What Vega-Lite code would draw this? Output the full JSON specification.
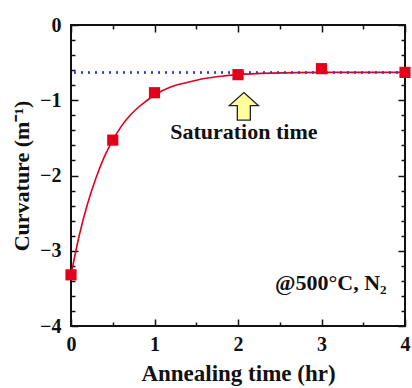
{
  "$schema": "https://vega.github.io/schema/vega-lite/v6.json",
  "autosize": {"type": "none"},
  "width": 334,
  "height": 301,
  "padding": {"left": 71, "top": 25, "right": 7, "bottom": 62},
  "background": "white",
  "config": {
    "view": {"stroke": "#111", "strokeWidth": 2},
    "axis": {"grid": false, "domain": false, "tickColor": "#111", "tickWidth": 1.5, "labelFont": "Liberation Serif", "labelFontWeight": "bold", "labelFontSize": 20, "labelColor": "#111", "titleFont": "Liberation Serif", "titleFontWeight": "bold", "titleFontSize": 22, "titleColor": "#111"}
  },
  "datasets": {
    "points": [
      {"t": 0, "c": -3.32},
      {"t": 0.5, "c": -1.53},
      {"t": 1, "c": -0.9},
      {"t": 2, "c": -0.66},
      {"t": 3, "c": -0.58},
      {"t": 4, "c": -0.63}
    ],
    "fit": [
      {"t": 0, "c": -3.32},
      {"t": 0.1, "c": -2.79},
      {"t": 0.2, "c": -2.37},
      {"t": 0.3, "c": -2.03},
      {"t": 0.4, "c": -1.75},
      {"t": 0.5, "c": -1.53},
      {"t": 0.6, "c": -1.35},
      {"t": 0.7, "c": -1.21},
      {"t": 0.8, "c": -1.1},
      {"t": 0.9, "c": -1.01},
      {"t": 1.0, "c": -0.93},
      {"t": 1.2, "c": -0.82},
      {"t": 1.4, "c": -0.76},
      {"t": 1.6, "c": -0.71},
      {"t": 1.8, "c": -0.68},
      {"t": 2.0, "c": -0.66},
      {"t": 2.4, "c": -0.64},
      {"t": 3.0, "c": -0.63},
      {"t": 4.0, "c": -0.63}
    ],
    "note1": [{"t": 2.07, "c": -1.42, "label": "Saturation time"}],
    "note2": [{"t": 3.78, "c": -3.43, "label": "@500°C, N₂"}],
    "arrow": [{"t": 2.07, "c": -1.08}]
  },
  "resolve": {"axis": {"x": "independent", "y": "independent"}},
  "layer": [
    {
      "data": {"name": "fit"},
      "mark": {"type": "line", "color": "#e3001b", "strokeWidth": 1.6, "interpolate": "monotone"},
      "encoding": {
        "x": {"field": "t", "type": "quantitative", "scale": {"domain": [0, 4], "nice": false, "zero": false},
          "axis": {"orient": "bottom", "values": [0, 1, 2, 3, 4], "ticks": false, "labelPadding": 8, "title": "Annealing time (hr)", "titleFontSize": 23, "titlePadding": 8, "labelFlush": false}},
        "y": {"field": "c", "type": "quantitative", "scale": {"domain": [-4, 0], "nice": false, "zero": false},
          "axis": {"orient": "left", "values": [-4, -3, -2, -1, 0], "ticks": false, "labelPadding": 10, "title": "Curvature (m⁻¹)", "titlePadding": 6, "labelFlush": false}}
      }
    },
    {
      "data": {"name": "points"},
      "mark": {"type": "rule", "color": "#3344aa", "strokeWidth": 1.5, "strokeDash": [2, 5]},
      "encoding": {"y": {"datum": -0.63, "type": "quantitative", "axis": null}}
    },
    {
      "data": {"name": "points"},
      "mark": {"type": "point", "shape": "square", "filled": true, "color": "#e3001b", "size": 125, "opacity": 1},
      "encoding": {
        "x": {"field": "t", "type": "quantitative", "axis": {"orient": "bottom", "values": [0, 1, 2, 3, 4], "tickSize": -7, "labels": false, "title": null}},
        "y": {"field": "c", "type": "quantitative", "axis": {"orient": "left", "values": [-4, -3, -2, -1, 0], "tickSize": -7, "labels": false, "title": null}}
      }
    },
    {
      "data": {"name": "points"},
      "mark": {"type": "point", "opacity": 0},
      "encoding": {
        "x": {"field": "t", "type": "quantitative", "axis": {"orient": "bottom", "values": [0.5, 1.5, 2.5, 3.5], "tickSize": -4, "labels": false, "title": null}},
        "y": {"field": "c", "type": "quantitative", "axis": {"orient": "left", "values": [-3.8, -3.6, -3.4, -3.2, -2.8, -2.6, -2.4, -2.2, -1.8, -1.6, -1.4, -1.2, -0.8, -0.6, -0.4, -0.2], "tickSize": -4, "labels": false, "title": null}}
      }
    },
    {
      "data": {"name": "points"},
      "mark": {"type": "point", "opacity": 0},
      "encoding": {
        "x": {"field": "t", "type": "quantitative", "axis": {"orient": "top", "values": [0, 1, 2, 3, 4], "tickSize": -7, "labels": false, "title": null}},
        "y": {"field": "c", "type": "quantitative", "axis": {"orient": "right", "values": [-4, -3, -2, -1, 0], "tickSize": -7, "labels": false, "title": null}}
      }
    },
    {
      "data": {"name": "points"},
      "mark": {"type": "point", "opacity": 0},
      "encoding": {
        "x": {"field": "t", "type": "quantitative", "axis": {"orient": "top", "values": [0.5, 1.5, 2.5, 3.5], "tickSize": -4, "labels": false, "title": null}},
        "y": {"field": "c", "type": "quantitative", "axis": {"orient": "right", "values": [-3.8, -3.6, -3.4, -3.2, -2.8, -2.6, -2.4, -2.2, -1.8, -1.6, -1.4, -1.2, -0.8, -0.6, -0.4, -0.2], "tickSize": -4, "labels": false, "title": null}}
      }
    },
    {
      "data": {"name": "arrow"},
      "mark": {"type": "point", "shape": "M0,-0.95 L1,-0.05 L0.45,-0.05 L0.45,0.95 L-0.45,0.95 L-0.45,-0.05 L-1,-0.05 Z", "filled": true, "fill": "#ffff99", "stroke": "#222", "strokeWidth": 1.3, "size": 840, "opacity": 1, "fillOpacity": 1, "strokeOpacity": 1},
      "encoding": {
        "x": {"field": "t", "type": "quantitative", "axis": null},
        "y": {"field": "c", "type": "quantitative", "axis": null}
      }
    },
    {
      "data": {"name": "note1"},
      "mark": {"type": "text", "font": "Liberation Serif", "fontWeight": "bold", "fontSize": 22, "color": "#111", "baseline": "middle", "align": "center"},
      "encoding": {
        "x": {"field": "t", "type": "quantitative", "axis": null},
        "y": {"field": "c", "type": "quantitative", "axis": null},
        "text": {"field": "label"}
      }
    },
    {
      "data": {"name": "note2"},
      "mark": {"type": "text", "font": "Liberation Serif", "fontWeight": "bold", "fontSize": 22, "color": "#111", "baseline": "middle", "align": "right"},
      "encoding": {
        "x": {"field": "t", "type": "quantitative", "axis": null},
        "y": {"field": "c", "type": "quantitative", "axis": null},
        "text": {"field": "label"}
      }
    }
  ]
}
